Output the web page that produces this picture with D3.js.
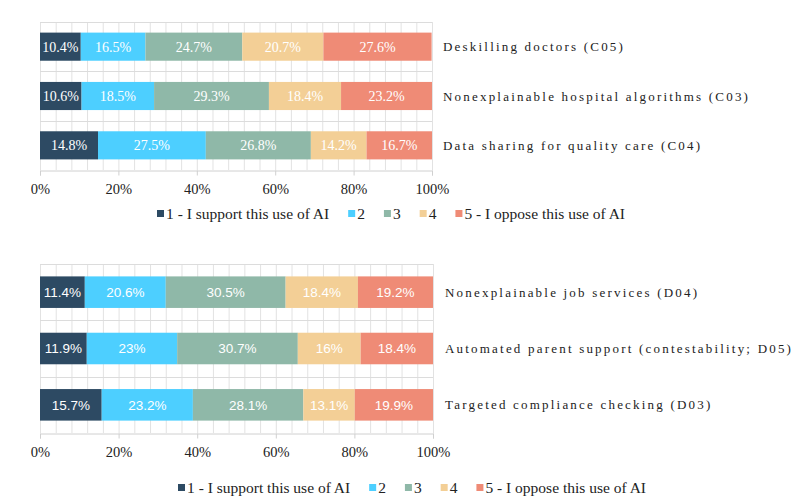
<!DOCTYPE html>
<html><head><meta charset="utf-8">
<script src="https://cdn.jsdelivr.net/npm/d3@7"></script>
<style>
html,body{margin:0;padding:0;background:#fff;}
svg{display:block;}
</style></head>
<body>
<svg id="chart" width="796" height="499"></svg>
<script>
// ---- data ----
const seriesNames = ["1 - I support this use of AI", "2", "3", "4", "5 - I oppose this use of AI"];
const seriesColors = ["#2d4a63", "#4dcfff", "#8fb8a8", "#f3cf96", "#ef8b76"];
const tickValues = [0, 20, 40, 60, 80, 100];
const tickLabels = ["0%", "20%", "40%", "60%", "80%", "100%"];

const categoriesC = ["Deskilling doctors (C05)", "Nonexplainable hospital algorithms (C03)", "Data sharing for quality care (C04)"];
const valuesC = [
  [10.4, 16.5, 24.7, 20.7, 27.6],
  [10.6, 18.5, 29.3, 18.4, 23.2],
  [14.8, 27.5, 26.8, 14.2, 16.7]
];
const labelsC = [
  ["10.4%", "16.5%", "24.7%", "20.7%", "27.6%"],
  ["10.6%", "18.5%", "29.3%", "18.4%", "23.2%"],
  ["14.8%", "27.5%", "26.8%", "14.2%", "16.7%"]
];

const categoriesD = ["Nonexplainable job services (D04)", "Automated parent support (contestability; D05)", "Targeted compliance checking (D03)"];
const valuesD = [
  [11.4, 20.6, 30.5, 18.4, 19.2],
  [11.9, 23, 30.7, 16, 18.4],
  [15.7, 23.2, 28.1, 13.1, 19.9]
];
const labelsD = [
  ["11.4%", "20.6%", "30.5%", "18.4%", "19.2%"],
  ["11.9%", "23%", "30.7%", "16%", "18.4%"],
  ["15.7%", "23.2%", "28.1%", "13.1%", "19.9%"]
];

// ---- layout ----
const svg = d3.select("#chart");
const serif = "'Liberation Serif','Times New Roman',serif";
const sans = "'Liberation Sans',Arial,sans-serif";

function panel(cfg, categories, values, labels) {
  const g = svg.append("g");
  const x = d3.scaleLinear().domain([0, 100]).range([cfg.x0, cfg.x1]);
  const y = d3.scaleBand().domain(categories).range([cfg.top, cfg.bottom]).paddingInner(cfg.pad).paddingOuter(cfg.pad / 2);
  const yRow = d3.scaleBand().domain(categories).range([cfg.top, cfg.bottom]);

  // grid: minor vertical lines every 4%
  const gridVals = d3.range(0, 101, 4);
  g.append("g").selectAll("line").data(gridVals).join("line")
    .attr("x1", d => x(d) + 0.5).attr("x2", d => x(d) + 0.5)
    .attr("y1", cfg.top).attr("y2", cfg.bottom)
    .attr("stroke", "#e2e2e2").attr("stroke-width", 1);
  // horizontal grid at row boundaries
  const rowEdges = categories.map(c => yRow(c));
  g.append("g").selectAll("line").data(rowEdges).join("line")
    .attr("x1", cfg.x0).attr("x2", cfg.x1)
    .attr("y1", d => Math.round(d) + 0.5).attr("y2", d => Math.round(d) + 0.5)
    .attr("stroke", "#dcdcdc").attr("stroke-width", 1);

  // stacked bars
  const rows = categories.map((c, i) => {
    let acc = 0;
    return values[i].map((v, j) => {
      const s = { cat: c, j, x0: acc, x1: Math.min(100, acc + v), label: labels[i][j] };
      acc += v;
      return s;
    });
  });
  const segs = rows.flat();
  g.append("g").selectAll("rect").data(segs).join("rect")
    .attr("x", d => x(d.x0)).attr("width", d => x(d.x1) - x(d.x0))
    .attr("y", d => y(d.cat)).attr("height", y.bandwidth())
    .attr("fill", d => seriesColors[d.j]);
  g.append("g").selectAll("text").data(segs).join("text")
    .attr("x", d => (x(d.x0) + x(d.x1)) / 2)
    .attr("y", d => y(d.cat) + y.bandwidth() / 2)
    .attr("dy", "0.35em").attr("text-anchor", "middle")
    .attr("fill", "#fff").style("font-family", cfg.barFont).style("font-size", cfg.barSize + "px")
    .text(d => d.label);

  // category labels on right
  g.append("g").selectAll("text").data(categories).join("text")
    .attr("x", cfg.labelX).attr("y", d => y(d) + y.bandwidth() / 2).attr("dy", "0.35em")
    .attr("fill", "#222").style("font-family", serif).style("font-size", "13px")
    .style("letter-spacing", "2.2px")
    .text(d => d);

  // x axis
  const axis = d3.axisBottom(x).tickValues(tickValues).tickFormat((d, i) => tickLabels[i]).tickSize(5).tickPadding(8);
  const ax = g.append("g").attr("transform", `translate(0,${cfg.bottom + 0.5})`).call(axis);
  ax.select(".domain").attr("stroke", "#d0d0d0");
  ax.selectAll(".tick line").attr("stroke", "#d0d0d0");
  ax.selectAll(".tick text").attr("fill", "#222").style("font-family", serif).style("font-size", "14.5px");

  // legend
  const lg = g.append("g").attr("transform", `translate(${cfg.legendX},${cfg.legendY})`);
  let cx = 0;
  seriesNames.forEach((n, i) => {
    const it = lg.append("g").attr("transform", `translate(${cx},0)`);
    it.append("rect").attr("x", 0).attr("y", -4).attr("width", 7).attr("height", 7).attr("fill", seriesColors[i]);
    const t = it.append("text").attr("x", 9).attr("y", 0).attr("dy", "0.35em")
      .attr("fill", "#222").style("font-family", serif).style("font-size", "15.5px").text(n);
    cx += 9 + t.node().getComputedTextLength() + cfg.legendGap;
  });
}

panel({ x0: 40, x1: 432, top: 22, bottom: 170, pad: 0.43, labelX: 443, barFont: serif, barSize: 14,
        legendX: 157, legendY: 214, legendGap: 19 }, categoriesC, valuesC, labelsC);
panel({ x0: 40, x1: 433, top: 264, bottom: 433, pad: 0.44, labelX: 445, barFont: sans, barSize: 13.5,
        legendX: 178, legendY: 488, legendGap: 19 }, categoriesD, valuesD, labelsD);
</script>
</body></html>
